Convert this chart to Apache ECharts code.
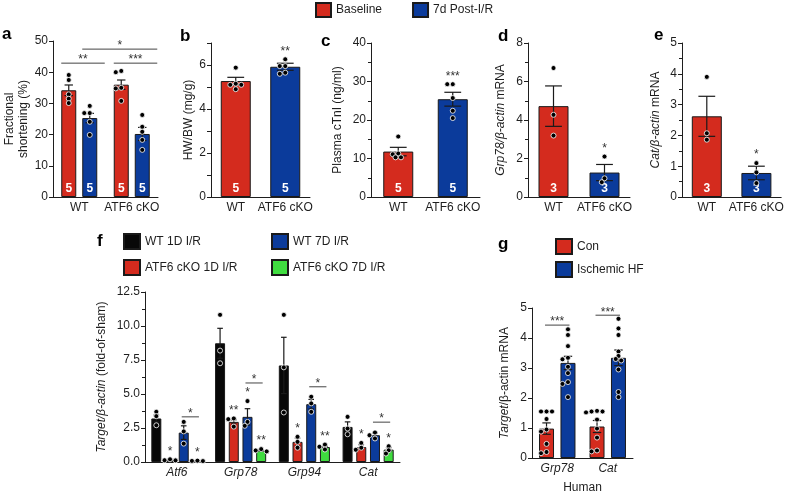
<!DOCTYPE html>
<html>
<head>
<meta charset="utf-8">
<script src="https://cdn.jsdelivr.net/npm/echarts@6/dist/echarts.min.js"></script>
<style>
  html, body { margin: 0; padding: 0; background: #fff; }
  #chart { width: 786px; height: 495px; }
</style>
</head>
<body>
<div id="chart"></div>
<script>
// a: fractional shortening
const aCats = ['WT', 'ATF6 cKO'];
const aBaseMean = [34.2, 36.0];
const aBaseSem = [1.7, 1.5];
const aBaseDots = [[37.5, 39.1, 32.9, 31.5, 30.1], [40.0, 40.4, 35.0, 34.8, 30.8]];
const aPostMean = [25.3, 20.2];
const aPostSem = [1.5, 2.1];
const aPostDots = [[29.2, 26.9, 26.9, 24.1, 19.9], [26.3, 22.5, 20.9, 18.3, 15.1]];
const aN = [5, 5];
// [cat, series, cat, series, y, text]
const aBrackets = [[0, 1, 1, 1, 47.4, '*'], [0, 0, 0, 1, 42.9, '**'], [1, 0, 1, 1, 42.9, '***']];

// b-e: WT vs ATF6 cKO
const koCats = ['WT', 'ATF6 cKO'];
const bMean = [5.27, 5.92];
const bSem = [0.17, 0.16];
const bDots = [[5.88, 5.1, 5.15, 5.1, 4.9], [6.26, 5.95, 5.95, 5.65, 5.6]];
const bN = [5, 5];
const bStars = ['', '**'];

const cMean = [11.8, 25.4];
const cSem = [1.1, 1.8];
const cDots = [[15.7, 11.3, 11.1, 10.3, 10.3], [29.3, 29.3, 25.7, 22.4, 20.5]];
const cN = [5, 5];
const cStars = ['', '***'];

const dMean = [4.72, 1.27];
const dSem = [1.05, 0.42];
const dDots = [[6.7, 4.27, 3.19], [2.1, 0.77, 0.97]];
const dN = [3, 3];
const dStars = ['', '*'];

const eMean = [2.62, 0.78];
const eSem = [0.65, 0.22];
const eDots = [[3.9, 2.07, 1.86], [1.1, 0.8, 0.45]];
const eN = [3, 3];
const eStars = ['', '*'];

// f: target genes after I/R
const fCats = ['Atf6', 'Grp78', 'Grp94', 'Cat'];
const fWt1Mean = [3.2, 8.73, 7.1, 2.58];
const fWt1Sem = [0.25, 1.1, 2.07, 0.37];
const fWt1Dots = [[3.69, 3.37, 2.7], [10.82, 8.19, 7.26], [10.82, 6.96, 3.64], [3.32, 2.46, 2.04]];
const fKo1Mean = [0.15, 2.95, 1.48, 1.1];
const fKo1Sem = [0.04, 0.15, 0.28, 0.17];
const fKo1Dots = [[0.2, 0.12, 0.13], [3.2, 3.15, 2.6], [1.85, 1.48, 1.05], [1.4, 1.05, 0.9]];
const fWt7Mean = [2.16, 3.32, 4.25, 1.97];
const fWt7Sem = [0.5, 0.6, 0.35, 0.17];
const fWt7Dots = [[2.95, 2.25, 1.35], [4.48, 2.95, 2.66], [4.8, 4.31, 3.69], [2.17, 1.97, 1.73]];
const fKo7Mean = [0.08, 0.86, 1.1, 0.91];
const fKo7Sem = [0.03, 0.05, 0.06, 0.14];
const fKo7Dots = [[0.1, 0.07, 0.08], [0.95, 0.85, 0.78], [1.28, 1.12, 0.92], [1.16, 0.86, 0.62]];
const fKo1Stars = ['*', '**', '*', '*'];
const fWt7Stars = ['', '*', '', ''];
const fKo7Stars = ['*', '**', '**', '*'];
const fBrackets = [[0, 2, 0, 3, 3.32, '*'], [1, 2, 1, 3, 5.81, '*'], [2, 2, 2, 3, 5.53, '*'], [3, 2, 3, 3, 2.93, '*']];

// g: human hearts
const gCats = ['Grp78', 'Cat'];
const gConMean = [0.98, 1.05];
const gConSem = [0.19, 0.2];
const gConDots = [[1.55, 1.55, 1.55, 1.3, 0.95, 0.88, 0.47, 0.2, 0.16], [1.57, 1.55, 1.55, 1.52, 1.28, 0.98, 0.68, 0.25, 0.22]];
const gHfMean = [3.17, 3.34];
const gHfSem = [0.22, 0.26];
const gHfDots = [[4.29, 4.1, 3.73, 3.34, 3.29, 3.04, 2.83, 2.53, 2.47, 2.03], [4.64, 4.32, 4.1, 3.55, 3.4, 3.3, 3.25, 2.95, 2.2, 2.03]];
const gBrackets = [[0, 0, 0, 1, 4.43, '***'], [1, 0, 1, 1, 4.76, '***']];

const RED = '#d42b1e', BLUE = '#0b3b9b', GREEN = '#3fdc3f', BLACK = '#080808';
const FONT = '"Liberation Sans", Arial, sans-serif';
const INK = '#1e1e1e';
const R = 2.5;

const panels = [
  {letter: 'a', lx: 2, ly: 26, grid: {left: 53, top: 41, width: 105, height: 156}, cats: aCats,
    max: 50, interval: 10, yName: 'Fractional\nshortening (%)', nameGap: 14, barWidth: 15, barGap: 0.4,
    bars: [
      {name: 'Baseline', colors: [RED], mean: aBaseMean, sem: aBaseSem, dots: aBaseDots, n: aN},
      {name: '7d Post-I/R', colors: [BLUE], mean: aPostMean, sem: aPostSem, dots: aPostDots, n: aN}
    ], brackets: aBrackets, pad: [-0.5, 1.0]},
  {letter: 'b', lx: 180, ly: 28, grid: {left: 211, top: 43, width: 99, height: 154}, cats: koCats,
    max: 7, interval: 1, even: true, yName: 'HW/BW (mg/g)', nameGap: 15, barWidth: 30,
    bars: [{name: 'b', colors: [RED, BLUE], mean: bMean, sem: bSem, dots: bDots, n: bN, stars: bStars}]},
  {letter: 'c', lx: 321, ly: 33, grid: {left: 371, top: 43, width: 109, height: 154}, cats: koCats,
    max: 40, interval: 10, minor: 2, yName: 'Plasma cTnI (ng/ml)', nameGap: 26, barWidth: 30,
    bars: [{name: 'c', colors: [RED, BLUE], mean: cMean, sem: cSem, dots: cDots, n: cN, stars: cStars}]},
  {letter: 'd', lx: 498, ly: 28, grid: {left: 528, top: 43, width: 102, height: 154}, cats: koCats,
    max: 8, interval: 2, minor: 2, yName: '{i|Grp78/β-actin} mRNA', nameGap: 20, barWidth: 30,
    bars: [{name: 'd', colors: [RED, BLUE], mean: dMean, sem: dSem, dots: dDots, n: dN, stars: dStars}]},
  {letter: 'e', lx: 654, ly: 27, grid: {left: 682, top: 43, width: 103, height: 154}, cats: koCats,
    max: 5, interval: 1, minor: 2, yName: '{i|Cat/β-actin} mRNA', nameGap: 19, barWidth: 30,
    bars: [{name: 'e', colors: [RED, BLUE], mean: eMean, sem: eSem, dots: eDots, n: eN, stars: eStars}]},
  {letter: 'f', lx: 97, ly: 233, grid: {left: 145, top: 292, width: 255, height: 170}, cats: fCats,
    max: 12.5, interval: 2.5, minor: 2, fixed: 1, italicCats: true,
    yName: '{i|Target/β-actin} (fold-of-sham)', nameGap: 36, barWidth: 10, barGap: 0.37,
    bars: [
      {name: 'WT 1D I/R', colors: [BLACK], mean: fWt1Mean, sem: fWt1Sem, dots: fWt1Dots},
      {name: 'ATF6 cKO 1D I/R', colors: [RED], mean: fKo1Mean, sem: fKo1Sem, dots: fKo1Dots, stars: fKo1Stars},
      {name: 'WT 7D I/R', colors: [BLUE], mean: fWt7Mean, sem: fWt7Sem, dots: fWt7Dots, stars: fWt7Stars},
      {name: 'ATF6 cKO 7D I/R', colors: [GREEN], mean: fKo7Mean, sem: fKo7Sem, dots: fKo7Dots, stars: fKo7Stars}
    ], brackets: fBrackets, pad: [-0.2, 0.15]},
  {letter: 'g', lx: 498, ly: 236, grid: {left: 532, top: 308, width: 101, height: 154}, cats: gCats,
    max: 5, interval: 1, italicCats: true, xName: 'Human',
    yName: '{i|Target}/β-actin mRNA', nameGap: 20, barWidth: 15, barGap: 0.43,
    bars: [
      {name: 'Con', colors: [RED], mean: gConMean, sem: gConSem, dots: gConDots},
      {name: 'Ischemic HF', colors: [BLUE], mean: gHfMean, sem: gHfSem, dots: gHfDots}
    ], brackets: gBrackets, pad: [-0.1, 0.1]}
];

function barOffset(p, s) {
  const n = p.bars.length;
  if (n === 1) return 0;
  const w = p.barWidth, g = p.barGap;
  const total = n * w + (n - 1) * g * w;
  return -total / 2 + w / 2 + s * w * (1 + g);
}

// simple beeswarm: push a dot sideways until it no longer overlaps much
function swarm(ys) {
  const step = R * 1.1;
  const placed = [];
  ys.slice().sort((a, b) => a - b).forEach(y => {
    for (let k = 0; k < 12; k++) {
      const dx = (k % 2 ? -1 : 1) * Math.ceil(k / 2) * step;
      const ok = placed.every(q => Math.hypot(q[0] - dx, q[1] - y) >= 2 * R * 0.8);
      if (ok) { placed.push([dx, y]); break; }
    }
  });
  return placed;
}

const grid = [], xAxis = [], yAxis = [], series = [], graphic = [];

panels.forEach((p, pi) => {
  grid.push(p.grid);
  xAxis.push({
    gridIndex: pi, type: 'category', data: p.cats,
    axisLine: {lineStyle: {color: INK}}, axisTick: {show: false},
    axisLabel: {interval: 0, fontSize: 12, color: INK, margin: 5, fontStyle: p.italicCats ? 'italic' : 'normal'},
    name: p.xName || '', nameLocation: 'middle', nameGap: 24, nameTextStyle: {fontSize: 12, color: INK}
  });
  yAxis.push({
    gridIndex: pi, type: 'value', min: 0, max: p.max, interval: p.interval,
    axisLine: {show: true, lineStyle: {color: INK}},
    axisTick: {show: true, length: 4, lineStyle: {color: INK}},
    minorTick: {show: !!p.minor, splitNumber: p.minor || 5, length: 3, lineStyle: {color: INK}},
    splitLine: {show: false},
    axisLabel: {fontSize: 12, color: INK, margin: 5,
      formatter: v => (p.even && v % 2) ? '' : (p.fixed ? v.toFixed(p.fixed) : String(v))},
    name: p.yName, nameLocation: 'middle', nameRotate: 90, nameGap: p.nameGap,
    nameTextStyle: {fontSize: 12, color: INK, lineHeight: 14,
      rich: {i: {fontStyle: 'italic', fontSize: 12, color: INK, fontFamily: FONT}}}
  });

  p.bars.forEach(b => {
    series.push({
      type: 'bar', name: b.name, xAxisIndex: pi, yAxisIndex: pi,
      barWidth: p.barWidth, barGap: p.barGap != null ? (p.barGap * 100) + '%' : '-100%',
      itemStyle: {color: b.colors[0], borderColor: '#1a1a1a', borderWidth: 1},
      data: b.mean.map((v, i) => ({value: v, itemStyle: {color: b.colors[i % b.colors.length]}})),
      label: b.n ? {show: true, position: 'insideBottom', distance: 2, color: '#fff', fontWeight: 'bold',
        fontSize: 12, formatter: q => String(b.n[q.dataIndex])} : {show: false},
      silent: true, z: 2
    });
  });

  // error bars, dots and stars
  const items = [];
  p.bars.forEach((b, s) => b.mean.forEach((m, c) => items.push({
    c, s, m, sem: b.sem[c], dots: b.dots[c], star: b.stars ? b.stars[c] : ''
  })));
  series.push({
    type: 'custom', xAxisIndex: pi, yAxisIndex: pi, z: 5, silent: true,
    data: items.map(it => [it.c, it.m]),
    renderItem: (params, api) => {
      const it = items[params.dataIndex];
      const cx = api.coord([it.c, 0])[0] + barOffset(p, it.s);
      const yOf = v => api.coord([it.c, v])[1];
      const cap = p.barWidth * 0.28;
      const yHi = yOf(it.m + it.sem), yLo = yOf(it.m - it.sem);
      const ln = {stroke: '#1a1a1a', lineWidth: 1.2};
      const kids = [
        {type: 'line', shape: {x1: cx, y1: yHi, x2: cx, y2: yLo}, style: ln},
        {type: 'line', shape: {x1: cx - cap, y1: yHi, x2: cx + cap, y2: yHi}, style: ln},
        {type: 'line', shape: {x1: cx - cap, y1: yLo, x2: cx + cap, y2: yLo}, style: ln}
      ];
      const ys = it.dots.map(yOf);
      swarm(ys).forEach(d => kids.push({type: 'circle', shape: {cx: cx + d[0], cy: d[1], r: R},
        style: {fill: '#000', stroke: '#fff', lineWidth: 0.8}}));
      if (it.star) {
        const top = Math.min(yHi, ...ys);
        kids.push({type: 'text', style: {text: it.star, x: cx, y: top - 8, align: 'center', verticalAlign: 'middle',
          fontSize: 12, fontFamily: FONT, fill: '#333'}});
      }
      return {type: 'group', children: kids};
    }
  });

  if (p.brackets) {
    series.push({
      type: 'custom', xAxisIndex: pi, yAxisIndex: pi, z: 6, silent: true,
      data: p.brackets.map(b => [b[0], b[4]]),
      renderItem: (params, api) => {
        const b = p.brackets[params.dataIndex];
        const x1 = api.coord([b[0], 0])[0] + barOffset(p, b[1]) + p.pad[0] * p.barWidth;
        const x2 = api.coord([b[2], 0])[0] + barOffset(p, b[3]) + p.pad[1] * p.barWidth;
        const y = api.coord([b[0], b[4]])[1];
        return {type: 'group', children: [
          {type: 'line', shape: {x1, y1: y, x2, y2: y}, style: {stroke: '#444', lineWidth: 1}},
          {type: 'text', style: {text: b[5], x: (x1 + x2) / 2, y: y - 3, align: 'center', verticalAlign: 'middle',
            fontSize: 12, fontFamily: FONT, fill: '#333'}}
        ]};
      }
    });
  }

  graphic.push({type: 'text', left: p.lx, top: p.ly, silent: true,
    style: {text: p.letter, font: 'bold 17px ' + FONT, fill: '#000'}});
});

const legendBase = {icon: 'rect', itemWidth: 15, itemHeight: 14, selectedMode: false, padding: 0,
  textStyle: {fontSize: 12, color: INK}};

const chart = echarts.init(document.getElementById('chart'));
chart.setOption({
  animation: false,
  textStyle: {fontFamily: FONT},
  grid, xAxis, yAxis, series, graphic,
  legend: [
    Object.assign({}, legendBase, {data: ['Baseline', '7d Post-I/R'], left: 315, top: 2, itemGap: 30}),
    Object.assign({}, legendBase, {data: ['WT 1D I/R', 'ATF6 cKO 1D I/R'], orient: 'vertical', left: 123, top: 233, itemGap: 9, itemWidth: 16, itemHeight: 15}),
    Object.assign({}, legendBase, {data: ['WT 7D I/R', 'ATF6 cKO 7D I/R'], orient: 'vertical', left: 271, top: 233, itemGap: 9, itemWidth: 16, itemHeight: 15}),
    Object.assign({}, legendBase, {data: ['Con', 'Ischemic HF'], orient: 'vertical', left: 555, top: 238, itemGap: 6, itemWidth: 16, itemHeight: 15})
  ]
});
</script>
</body>
</html>
